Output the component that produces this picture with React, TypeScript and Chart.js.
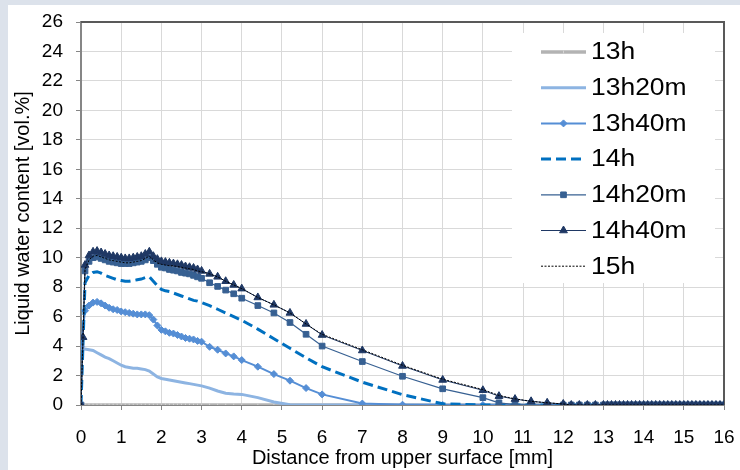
import React, { useEffect, useRef } from 'react';
import { Chart, registerables } from 'chart.js';
import { drawPoint } from 'chart.js/helpers';

Chart.register(...registerables);

const FONT = '"Liberation Sans", Arial, sans-serif';

// Distance from the upper surface [mm] (measurement mesh)
const DISTANCE_MM = [
  0, 0.05, 0.1, 0.2, 0.3, 0.4, 0.5, 0.6, 0.7, 0.8, 0.9, 1.0, 1.1, 1.2, 1.3, 1.4, 1.5, 1.6, 1.7, 1.8, 1.9,
  2.0, 2.1, 2.2, 2.3, 2.4, 2.5, 2.6, 2.7, 2.8, 2.9, 3.0,
  3.2, 3.4, 3.6, 3.8, 4.0,
  4.4, 4.8, 5.2, 5.6, 6.0,
  7, 8, 9, 10,
  10.4, 10.8, 11.2, 11.6, 12.0,
  12.2, 12.4, 12.6, 12.8, 13.0,
  13.1, 13.2, 13.3, 13.4, 13.5, 13.6, 13.7, 13.8, 13.9, 14.0,
  14.1, 14.2, 14.3, 14.4, 14.5, 14.6, 14.7, 14.8, 14.9, 15.0,
  15.1, 15.2, 15.3, 15.4, 15.5, 15.6, 15.7, 15.8, 15.9, 16.0,
];

// values from 12.2 mm to 16 mm (all series are dry there)
const DRY_TAIL = [
  0, 0, 0, 0, 0,
  0, 0, 0, 0, 0, 0, 0, 0, 0, 0,
  0, 0, 0, 0, 0, 0, 0, 0, 0, 0,
  0, 0, 0, 0, 0, 0, 0, 0, 0, 0,
];

const H13 = [
  0, null, 0, 0, 0, 0, 0, 0, 0, 0, 0, 0, 0, 0, 0, 0, 0, 0, 0, 0, 0,
  0, 0, 0, 0, 0, 0, 0, 0, 0, 0,
  0, 0, 0, 0, 0,
  0, 0, 0, 0, 0,
  0, 0, 0, 0,
  0, 0, 0, 0, 0,
  ...DRY_TAIL,
];
const H13_20 = [
  3.9, null, 3.8, 3.75, 3.7, 3.55, 3.4, 3.25, 3.15, 3.0, 2.85, 2.7, 2.6, 2.55, 2.5, 2.5, 2.45, 2.4, 2.3, 2.1, 1.9,
  1.8, 1.75, 1.7, 1.65, 1.6, 1.55, 1.5, 1.45, 1.4, 1.35, 1.3,
  1.15, 0.95, 0.8, 0.75, 0.72,
  0.5, 0.2, 0.02, 0, 0,
  0, 0, 0, 0,
  0, 0, 0, 0, 0,
  ...DRY_TAIL,
];
const H13_40 = [
  4.0, null, 6.4, 6.75, 6.95, 7.0, 6.9, 6.75, 6.6, 6.5, 6.45, 6.35, 6.3, 6.25, 6.2, 6.15, 6.15, 6.15, 6.1, 5.8, 5.4,
  5.1, 5.0, 4.9, 4.85, 4.75, 4.65, 4.55, 4.5, 4.45, 4.35, 4.3,
  3.95, 3.75, 3.5, 3.3, 3.05,
  2.6, 2.1, 1.65, 1.15, 0.72,
  0.1, 0.02, 0, 0,
  0, 0, 0, 0, 0,
  ...DRY_TAIL,
];
const H14 = [
  0, null, 8.3, 8.8, 9.0, 9.05, 8.95, 8.8, 8.7, 8.6, 8.5, 8.45, 8.4, 8.4, 8.45, 8.5, 8.55, 8.65, 8.7, 8.4, 8.1,
  7.85, 7.75, 7.7, 7.6, 7.5, 7.4, 7.3, 7.2, 7.1, 7.05, 6.95,
  6.75, 6.5, 6.25, 6.0, 5.75,
  5.15, 4.5, 3.85, 3.2, 2.6,
  1.55, 0.7, 0.08, 0,
  0, 0, 0, 0, 0,
  ...DRY_TAIL,
];
const H14_20 = [
  0, null, 9.1, 9.75, 10.0, 10.05, 9.95, 9.85, 9.75, 9.7, 9.65, 9.6, 9.6, 9.6, 9.65, 9.7, 9.75, 9.85, 10.0, 9.8, 9.55,
  9.35, 9.3, 9.2, 9.15, 9.1, 9.0, 8.95, 8.9, 8.8, 8.7, 8.6,
  8.3, 8.05, 7.8, 7.55, 7.25,
  6.75, 6.25, 5.6, 4.8, 4.0,
  2.95, 1.95, 1.1, 0.5,
  0.15, 0.03, 0, 0, 0,
  ...DRY_TAIL,
];
const H14_40 = [
  0, 4.6, 9.5, 10.15, 10.4, 10.45, 10.35, 10.25, 10.15, 10.1, 10.05, 10.0, 9.95, 9.95, 10.0, 10.05, 10.1, 10.25, 10.4, 10.1, 9.9,
  9.75, 9.7, 9.65, 9.6, 9.55, 9.5, 9.4, 9.35, 9.3, 9.2, 9.1,
  8.9, 8.7, 8.4, 8.15, 7.9,
  7.3, 6.8, 6.25, 5.5, 4.75,
  3.7, 2.65, 1.7, 1.0,
  0.6, 0.4, 0.25, 0.15, 0.07,
  ...DRY_TAIL,
];
const H15 = [
  0, null, 9.2, 9.85, 10.1, 10.15, 10.05, 9.95, 9.85, 9.8, 9.75, 9.7, 9.65, 9.65, 9.7, 9.75, 9.8, 9.95, 10.1, 9.85, 9.65,
  9.55, 9.5, 9.45, 9.45, 9.4, 9.35, 9.3, 9.25, 9.2, 9.1, 9.05,
  8.9, 8.7, 8.4, 8.15, 7.9,
  7.3, 6.8, 6.25, 5.5, 4.8,
  3.75, 2.7, 1.75, 1.05,
  0.65, 0.42, 0.25, 0.15, 0.07,
  ...DRY_TAIL,
];

const SERIES_LABELS = ['13h', '13h20m', '13h40m', '14h', '14h20m', '14h40m', '15h'];
const SERIES_VALUES = [H13, H13_20, H13_40, H14, H14_20, H14_40, H15];
const SERIES_COLORS = ['#b3b3b3', '#8db4e2', '#558ed5', '#0070c0', '#376092', '#1f3864', '#000000'];
const SERIES_WIDTHS = [3.5, 3, 2, 3, 1.2, 1, 1];
const SERIES_DASHES: number[][] = [[], [], [], [10, 5], [], [], [2, 1.5]];
const SERIES_POINT_STYLES: any[] = ['line', false, 'rectRot', false, 'rect', 'triangle', false];
const SERIES_POINT_RADII = [1.5, 0, 3.5, 0, 4, 4.5, 0];
const SERIES_POINT_ROT = [90, 0, 0, 0, 0, 0, 0];
const SERIES_POINT_COLORS = ['#d4d4d4', '#8db4e2', '#558ed5', '#0070c0', '#376092', '#1f3864', '#000000'];

const X_TITLE = 'Distance from upper surface [mm]';
const Y_TITLE = 'Liquid water content [vol.%]';

const framePlugin = {
  id: 'frame',
  beforeDatasetsDraw(chart: any) {
    const { ctx, chartArea } = chart;
    ctx.save();
    ctx.strokeStyle = '#595959';
    ctx.lineWidth = 2;
    ctx.beginPath();
    ctx.moveTo(chartArea.left, chartArea.top);
    ctx.lineTo(chartArea.right, chartArea.top);
    ctx.lineTo(chartArea.right, chartArea.bottom);
    ctx.stroke();
    ctx.restore();
  },
};

const legendPlugin = {
  id: 'insideLegend',
  afterDatasetsDraw(chart: any) {
    const { ctx, chartArea } = chart;
    const boxLeft = chartArea.right - 212;
    const boxTop = chartArea.top + 11;
    ctx.save();
    ctx.fillStyle = '#ffffff';
    ctx.fillRect(boxLeft, boxTop, 203, 250);
    const lineX0 = boxLeft + 29;
    const lineX1 = boxLeft + 74;
    const textX = boxLeft + 79;
    SERIES_LABELS.forEach((label, i) => {
      const y = boxTop + 19 + i * 35.7;
      ctx.strokeStyle = SERIES_COLORS[i];
      ctx.lineWidth = SERIES_WIDTHS[i];
      ctx.setLineDash(SERIES_DASHES[i]);
      ctx.beginPath();
      ctx.moveTo(lineX0, y);
      ctx.lineTo(lineX1, y);
      ctx.stroke();
      ctx.setLineDash([]);
      if (SERIES_POINT_STYLES[i]) {
        ctx.fillStyle = SERIES_POINT_COLORS[i];
        ctx.strokeStyle = SERIES_POINT_COLORS[i];
        ctx.lineWidth = 1;
        drawPoint(ctx, {
          pointStyle: SERIES_POINT_STYLES[i],
          radius: SERIES_POINT_RADII[i],
          rotation: SERIES_POINT_ROT[i],
          borderWidth: 1,
        } as any, (lineX0 + lineX1) / 2, y);
      }
      ctx.save();
      ctx.translate(textX, y + 1);
      ctx.scale(1.15, 1);
      ctx.fillStyle = '#000000';
      ctx.font = `23px ${FONT}`;
      ctx.textBaseline = 'middle';
      ctx.textAlign = 'left';
      ctx.fillText(label, 0, 0);
      ctx.restore();
    });
    ctx.restore();
  },
};

const noOverflow = (s: any) => {
  s.paddingTop = 0;
  s.paddingBottom = 0;
  s.paddingLeft = 0;
  s.paddingRight = 0;
};

export default function App() {
  const canvasRef = useRef<HTMLCanvasElement | null>(null);

  useEffect(() => {
    const canvas = canvasRef.current;
    if (!canvas) return;
    const datasets = SERIES_LABELS.map((label, i) => ({
      label,
      data: DISTANCE_MM.map((x, k) => ({ x, y: SERIES_VALUES[i][k] })).filter((p) => p.y !== null),
      borderColor: SERIES_COLORS[i],
      backgroundColor: SERIES_POINT_COLORS[i],
      borderWidth: SERIES_WIDTHS[i],
      borderDash: SERIES_DASHES[i],
      pointStyle: SERIES_POINT_STYLES[i] || 'circle',
      pointRadius: SERIES_POINT_RADII[i],
      pointRotation: SERIES_POINT_ROT[i],
      pointBackgroundColor: SERIES_POINT_COLORS[i],
      pointBorderColor: SERIES_POINT_COLORS[i],
      pointBorderWidth: 1,
      tension: 0,
      order: SERIES_LABELS.length - 1 - i,
    }));

    const chart = new Chart(canvas, {
      type: 'line',
      data: { datasets },
      plugins: [framePlugin, legendPlugin],
      options: {
        animation: false,
        responsive: false,
        maintainAspectRatio: false,
        layout: { padding: { top: 17, right: 16, left: 0, bottom: 0 } },
        plugins: { legend: { display: false }, tooltip: { enabled: false } },
        scales: {
          x: {
            type: 'linear',
            min: 0,
            max: 16,
            ticks: {
              stepSize: 1,
              color: '#000000',
              font: { family: FONT, size: 19 },
              padding: 16,
              maxRotation: 0,
              autoSkip: false,
            },
            grid: { color: '#d9d9d9', tickLength: 5, tickColor: '#868686' },
            border: { color: '#868686', width: 1 },
            title: {
              display: true,
              text: X_TITLE,
              color: '#000000',
              font: { family: FONT, size: 20 },
              padding: { top: 0, bottom: 0 },
            },
            afterFit: (s: any) => { s.height = 65; noOverflow(s); },
          },
          y: {
            min: 0,
            max: 26,
            ticks: {
              stepSize: 2,
              color: '#000000',
              font: { family: FONT, size: 19 },
              padding: 13,
            },
            grid: { color: '#d9d9d9', tickLength: 5, tickColor: '#868686' },
            border: { color: '#868686', width: 2 },
            title: {
              display: true,
              text: Y_TITLE,
              color: '#000000',
              font: { family: FONT, size: 20 },
              padding: { top: 3, bottom: 0 },
            },
            afterFit: (s: any) => { s.width = 73; noOverflow(s); },
          },
        },
      } as any,
    });
    return () => chart.destroy();
  }, []);

  return (
    <div style={{ position: 'fixed', left: 0, top: 0, width: 740, height: 470, background: '#dce2eb', overflow: 'hidden' }}>
      <div style={{ position: 'absolute', left: 8, top: 5, width: 732, height: 465, background: '#ffffff' }}>
        <canvas ref={canvasRef} width={732} height={465} style={{ display: 'block' }} />
      </div>
    </div>
  );
}
